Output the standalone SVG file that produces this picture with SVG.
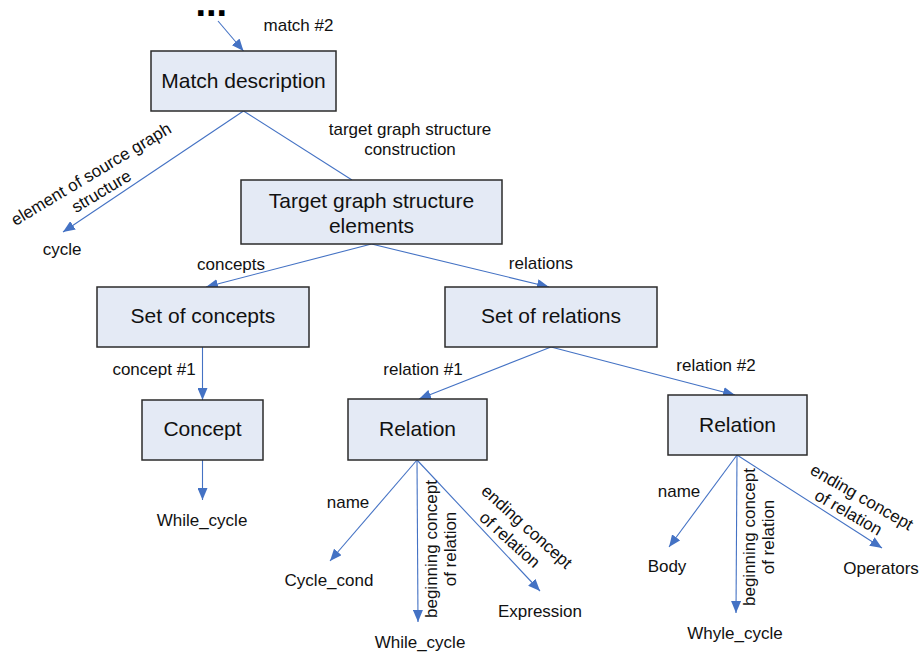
<svg xmlns="http://www.w3.org/2000/svg" width="922" height="654" viewBox="0 0 922 654">
<style>
.box{fill:#E4EAF5;stroke:#2b2b2b;stroke-width:1.5}
.bt{font-family:"Liberation Sans",Arial,sans-serif;font-size:21px;fill:#111;text-anchor:middle}
.lb{font-family:"Liberation Sans",Arial,sans-serif;font-size:17px;fill:#111;text-anchor:middle}
.ln{stroke:#4472C4;stroke-width:1.1;fill:none}
.arr{marker-end:url(#ah)}
</style>
<defs>
<marker id="ah" markerUnits="userSpaceOnUse" markerWidth="12" markerHeight="10" refX="12" refY="5" orient="auto">
<path d="M0,0 L12,5 L0,10 z" fill="#4472C4"/>
</marker>
</defs>
<rect width="922" height="654" fill="#ffffff"/>
<g id="connectors">
<line class="ln arr" x1="218" y1="21" x2="243.5" y2="51"/>
<line class="ln arr" x1="243.5" y1="111" x2="63" y2="232"/>
<line class="ln" x1="243.5" y1="111" x2="352" y2="180"/>
<line class="ln arr" x1="371.5" y1="244" x2="206" y2="287"/>
<line class="ln arr" x1="371.5" y1="244" x2="549" y2="287"/>
<line class="ln arr" x1="202.5" y1="347" x2="202.5" y2="400"/>
<line class="ln arr" x1="202.5" y1="460" x2="202.5" y2="500"/>
<line class="ln arr" x1="551" y1="347" x2="419" y2="399"/>
<line class="ln arr" x1="551" y1="347" x2="735" y2="395"/>
<line class="ln arr" x1="417" y1="460" x2="330" y2="561"/>
<line class="ln arr" x1="417" y1="460" x2="418" y2="622"/>
<line class="ln arr" x1="417" y1="460" x2="540" y2="591"/>
<line class="ln arr" x1="737" y1="455" x2="669" y2="547"/>
<line class="ln arr" x1="737" y1="455" x2="736" y2="613"/>
<line class="ln arr" x1="737" y1="455" x2="882" y2="548"/>
<text class="lb" x="298.5" y="31">match #2</text>
<g transform="translate(94,179) rotate(-31)">
<text class="lb" x="0" y="0">element of source graph</text>
<text class="lb" x="0" y="20">structure</text>
</g>
<text class="lb" x="410" y="135">target graph structure</text>
<text class="lb" x="410" y="155">construction</text>
<text class="lb" x="231" y="270">concepts</text>
<text class="lb" x="541" y="269">relations</text>
<text class="lb" x="154" y="375">concept #1</text>
<text class="lb" x="423" y="375">relation #1</text>
<text class="lb" x="716" y="371">relation #2</text>
<text class="lb" x="348" y="508">name</text>
<text class="lb" x="679" y="497">name</text>
<g transform="translate(437,549) rotate(-90)">
<text class="lb" x="0" y="0">beginning concept</text>
<text class="lb" x="0" y="19">of relation</text>
</g>
<g transform="translate(755,537) rotate(-90)">
<text class="lb" x="0" y="0">beginning concept</text>
<text class="lb" x="0" y="19">of relation</text>
</g>
<g transform="translate(523,531) rotate(42)">
<text class="lb" x="0" y="0">ending concept</text>
<text class="lb" x="-4" y="21">of relation</text>
</g>
<g transform="translate(859,502) rotate(30)">
<text class="lb" x="0" y="0">ending concept</text>
<text class="lb" x="-4" y="20">of relation</text>
</g>
</g>
<g id="ellipsis">
<text x="195.5" y="16" font-family="Liberation Sans, Arial, sans-serif" font-size="38" font-weight="bold" fill="#000">...</text>
</g>
<g id="match-description">
<rect class="box" x="151" y="51" width="185" height="60"/>
<text class="bt" x="243.5" y="88">Match description</text>
</g>
<g id="target-elements">
<rect class="box" x="241" y="180" width="261" height="64"/>
<text class="bt" x="371.5" y="208">Target graph structure</text>
<text class="bt" x="371.5" y="233">elements</text>
</g>
<g id="set-of-concepts">
<rect class="box" x="97" y="287" width="212" height="60"/>
<text class="bt" x="203" y="323">Set of concepts</text>
</g>
<g id="set-of-relations">
<rect class="box" x="445" y="287" width="212" height="60"/>
<text class="bt" x="551" y="323">Set of relations</text>
</g>
<g id="concept">
<rect class="box" x="142" y="400" width="121" height="60"/>
<text class="bt" x="202.5" y="436">Concept</text>
</g>
<g id="relation-1">
<rect class="box" x="348" y="399" width="139" height="61"/>
<text class="bt" x="417.5" y="436">Relation</text>
</g>
<g id="relation-2">
<rect class="box" x="668" y="395" width="139" height="60"/>
<text class="bt" x="737.5" y="432">Relation</text>
</g>
<g id="cycle"><text class="lb" x="62" y="255">cycle</text></g>
<g id="while-cycle-concept"><text class="lb" x="202" y="526">While_cycle</text></g>
<g id="cycle-cond"><text class="lb" x="329" y="586">Cycle_cond</text></g>
<g id="while-cycle-rel"><text class="lb" x="420" y="648">While_cycle</text></g>
<g id="expression"><text class="lb" x="540" y="617">Expression</text></g>
<g id="body"><text class="lb" x="667" y="572">Body</text></g>
<g id="whyle-cycle"><text class="lb" x="735" y="639">Whyle_cycle</text></g>
<g id="operators"><text class="lb" x="881" y="574">Operators</text></g>
</svg>
